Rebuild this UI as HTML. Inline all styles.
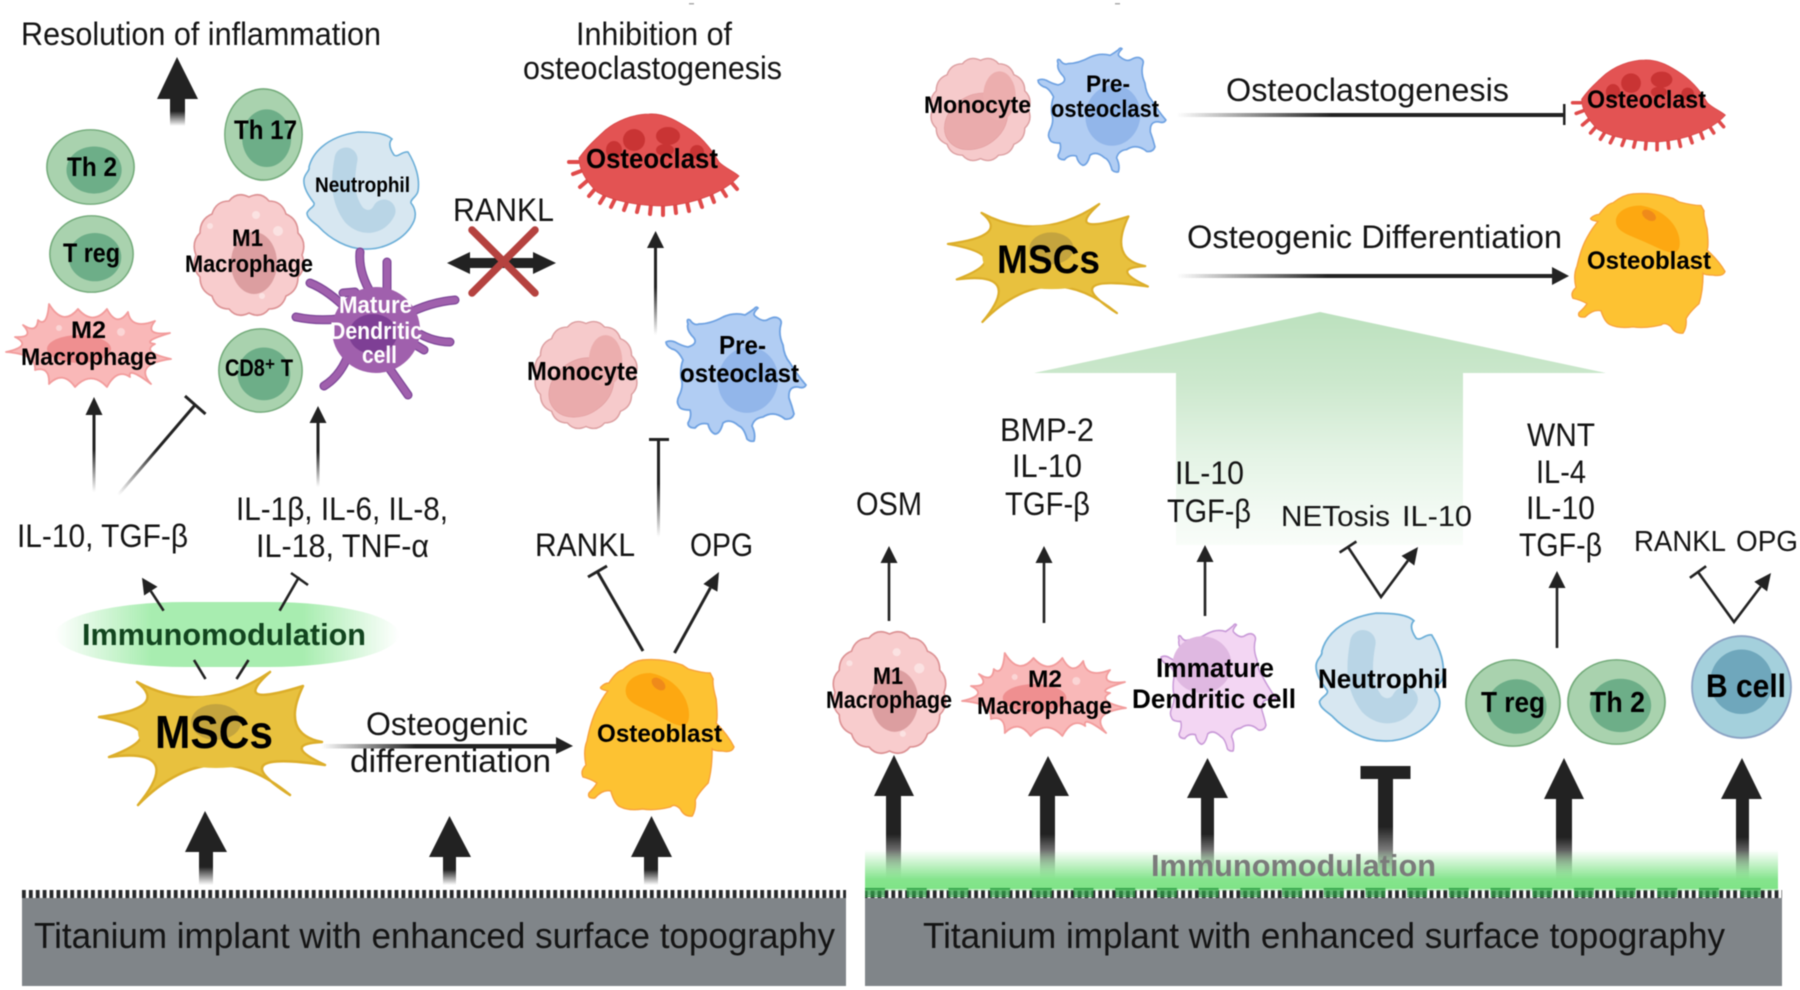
<!DOCTYPE html>
<html>
<head>
<meta charset="utf-8">
<style>
html,body{margin:0;padding:0;background:#fff;width:1800px;height:990px;overflow:hidden}
svg{display:block;filter:blur(.4px)}
text{font-family:"Liberation Sans",sans-serif;fill:#141414}
.n{font-size:32px}
.b{font-weight:bold;fill:#000;font-size:24px}
.w{font-weight:bold;fill:#fff;font-size:24px}
</style>
</head>
<body>
<svg width="1800" height="990" viewBox="0 0 1800 990" xmlns="http://www.w3.org/2000/svg">
<defs>
<linearGradient id="fv" x1="0" y1="0" x2="0" y2="1"><stop offset="0" stop-color="#222"/><stop offset=".45" stop-color="#222"/><stop offset="1" stop-color="#222" stop-opacity="0"/></linearGradient>
<linearGradient id="fh" x1="0" y1="0" x2="1" y2="0"><stop offset="0" stop-color="#222" stop-opacity="0"/><stop offset=".4" stop-color="#222"/><stop offset="1" stop-color="#222"/></linearGradient>
<linearGradient id="fd" gradientUnits="userSpaceOnUse" x1="195" y1="405" x2="118" y2="495"><stop offset="0" stop-color="#222"/><stop offset=".5" stop-color="#222"/><stop offset="1" stop-color="#222" stop-opacity="0"/></linearGradient>
<linearGradient id="ga" gradientUnits="userSpaceOnUse" x1="0" y1="312" x2="0" y2="545"><stop offset="0" stop-color="#bce1be"/><stop offset=".3" stop-color="#cce8cd"/><stop offset=".6" stop-color="#e3f3e4"/><stop offset=".85" stop-color="#f2faf3"/><stop offset="1" stop-color="#f9fdf9"/></linearGradient>
<linearGradient id="ge" x1="0" y1="0" x2="1" y2="0"><stop offset="0" stop-color="#a8edb0" stop-opacity="0"/><stop offset=".28" stop-color="#a8edb0"/><stop offset=".72" stop-color="#a8edb0"/><stop offset="1" stop-color="#a8edb0" stop-opacity="0"/></linearGradient>
<linearGradient id="gg" x1="0" y1="0" x2="0" y2="1"><stop offset="0" stop-color="#7fe387" stop-opacity="0"/><stop offset=".75" stop-color="#7fe387" stop-opacity=".95"/><stop offset="1" stop-color="#7fe387"/></linearGradient>
<pattern id="comb" x="22" y="890" width="6.9" height="8" patternUnits="userSpaceOnUse"><rect x="0" y="0" width="3.8" height="8" fill="#26282a"/></pattern>
<pattern id="bump" x="865" y="888" width="41.7" height="8" patternUnits="userSpaceOnUse"><rect x="0" y="0" width="20" height="2.6" fill="#2f9d46"/><rect x="0" y="2.6" width="20" height="5" fill="#2f9d46" opacity=".75"/></pattern>

<path id="wavy" d="M110 62Q115 75 106 84Q106 98 94 103Q90 116 77 116Q69 126 57 120Q45 126 37 116Q24 116 20 103Q8 98 8 84Q-1 75 4 62Q-1 49 8 40Q8 26 20 21Q24 8 37 8Q45 -2 57 4Q69 -2 77 8Q90 8 94 21Q106 26 106 40Q115 49 110 62Z"/>
<path id="pres" d="M92 2Q86 8 89 10Q96 16 101 14Q108 10 112 12Q116 14 115 18Q112 28 117 39Q118 50 124 57Q132 70 140 79Q138 83 132 81Q122 80 123 92Q126 100 128 108Q126 114 119 113Q108 104 97 111Q88 112 86 120Q90 128 88 135Q84 136 81 133Q78 122 73 120Q64 112 57 117Q54 128 49 128Q44 126 42 118Q34 116 29 122Q22 122 22 117Q26 110 24 104Q14 104 13 100Q10 96 13 90Q18 80 15 72Q14 62 17 54Q12 44 6 43Q0 40 0 36Q4 34 9 36Q16 40 22 41Q32 38 28 32Q20 24 22 18Q20 12 24 14Q28 20 33 18Q44 18 57 11Q68 6 79 9Q84 6 88 3Q90 0 92 2Z"/>

<symbol id="lym" viewBox="0 0 100 100" preserveAspectRatio="none" overflow="visible">
<ellipse cx="50" cy="50" rx="49" ry="49" fill="#a9d2ae" stroke="#74ab7b" stroke-width="1.8"/>
<ellipse cx="54" cy="54" rx="31" ry="31" fill="#6dae88"/>
</symbol>
<symbol id="bcell" viewBox="0 0 100 100" preserveAspectRatio="none" overflow="visible">
<ellipse cx="50" cy="50" rx="49" ry="49" fill="#a4d0dc" stroke="#8ba3c4" stroke-width="1.8"/>
<ellipse cx="50" cy="45" rx="31" ry="31" fill="#6fa7bc"/>
</symbol>
<symbol id="mono" viewBox="0 0 114 124" preserveAspectRatio="none" overflow="visible">
<use href="#wavy" fill="#f6cacb" stroke="#dc9fa1" stroke-width="1.6"/>
<ellipse cx="52" cy="76" rx="38" ry="30" transform="rotate(-40 52 76)" fill="#eaabac" stroke="#e09a9c" stroke-width=".6"/>
<ellipse cx="78" cy="46" rx="18" ry="29" fill="#ecaeae"/>
</symbol>
<symbol id="m1" viewBox="0 0 114 124" preserveAspectRatio="none" overflow="visible">
<use href="#wavy" fill="#f8cccd" stroke="#dc9294" stroke-width="1.6"/>
<ellipse cx="62" cy="70" rx="23" ry="31" fill="#dc9ea0"/>
<circle cx="64" cy="22" r="4" fill="#fbe2e2"/><circle cx="86" cy="38" r="5" fill="#fbe2e2"/><circle cx="18" cy="33" r="3" fill="#fbe2e2"/><circle cx="70" cy="103" r="3" fill="#fbe2e2"/>
</symbol>
<symbol id="m2" viewBox="0 0 166 85" preserveAspectRatio="none" overflow="visible">
<path d="M44 2Q58 25 73 7Q88 24 102 7Q112 26 123 10Q126 28 150 19Q138 34 165 31Q135 40 150 42Q135 50 166 57Q128 62 146 82Q122 64 125 75Q112 66 102 85Q86 68 70 85Q58 68 44 82Q45 64 30 68Q32 52 1 50Q28 44 10 35Q30 36 18 23Q32 32 33 18Q42 26 44 2Z" fill="#f9b8b8" stroke="#f29c9c" stroke-width="1.8" stroke-linejoin="round"/>
<ellipse cx="83" cy="45" rx="56" ry="27" fill="#f9b8b8"/>
<ellipse cx="74" cy="47" rx="32" ry="14" fill="#ef8f90"/>
<circle cx="116" cy="30" r="4" fill="#fbd5d5"/><circle cx="54" cy="26" r="3" fill="#fbd5d5"/>
</symbol>
<symbol id="neu" viewBox="0 0 118 119" preserveAspectRatio="none" overflow="visible">
<path d="M56 1C70 1 84 2 90 8C86 12 88 18 92 24C96 27 100 20 106 21C114 34 118 48 116 60C115 66 108 68 109 72C114 78 114 85 112 90C104 108 82 119 62 118C46 118 28 108 17 96C13 92 5 88 5 82C7 77 13 76 12 72C6 64 1 56 2 48C3 42 8 40 7 36C10 24 22 6 56 1Z" fill="#d7e7f1" stroke="#6cafd8" stroke-width="1.6"/>
<path d="M44 28C40 50 40 68 52 84C62 94 76 92 82 80" fill="none" stroke="#b9d5e6" stroke-width="23" stroke-linecap="round"/>
</symbol>
<symbol id="clast" viewBox="0 0 178 100" preserveAspectRatio="none" overflow="visible">
<path d="M166 68L172 75M156 74L161 82M146 80L149 88M134 84L137 93M122 88L124 97M110 90L111 99M98 90L98 101M86 90L85 100M74 90L72 98M62 88L59 96M50 85L46 93M40 81L35 89M30 75L24 82M22 67L15 73M16 57L8 60M13 48L4 48" stroke="#e04a4a" stroke-width="4" stroke-linecap="round" fill="none"/>
<path d="M14 44C24 30 30 26 36 20C50 6 70 0 84 0C100 -1 114 8 126 16C140 26 148 38 154 48C160 54 170 58 174 62C160 78 130 90 100 92C70 92 46 86 32 78C22 68 14 56 14 44Z" fill="#e35353" stroke="#d64444" stroke-width=".8"/>
<ellipse cx="69" cy="26" rx="11" ry="11" fill="#c93434"/><ellipse cx="103" cy="22" rx="12" ry="9" fill="#c93434"/><ellipse cx="49" cy="36" rx="8" ry="9" fill="#c93434"/><ellipse cx="100" cy="36" rx="9" ry="6" fill="#c93434"/><ellipse cx="132" cy="38" rx="7" ry="7" fill="#c93434"/>
</symbol>
<symbol id="msc" viewBox="0 0 226 133" preserveAspectRatio="none" overflow="visible">
<path d="M39 10Q105 45 172 0Q131 37 205 14Q182 62 224 70Q182 72 227 93Q122 78 192 123Q114 58 40 133Q88 75 11 85Q80 59 1 45Q72 36 39 10Z" fill="#e8c13e" stroke="#dcae2a" stroke-width="2.5" stroke-linejoin="round"/>
<ellipse cx="118" cy="60" rx="78" ry="36" fill="#e8c13e"/>
<ellipse cx="118" cy="50" rx="25" ry="18" fill="#c4a43e"/>
</symbol>
<symbol id="blast" viewBox="0 0 155 158" preserveAspectRatio="none" overflow="visible">
<path d="M62 1Q82 -1 102 6L108 10Q122 14 130 14L133 20Q132 26 136 40Q138 60 136 64Q148 76 154 88Q152 94 142 92Q134 92 132 90Q132 110 128 124Q118 134 115 141Q116 150 112 157Q104 158 100 150Q94 144 90 148Q74 152 62 150Q48 152 40 148Q34 146 30 132Q22 130 14 139Q6 140 8 134Q14 128 16 124Q10 120 2 118Q-1 112 5 106Q2 92 6 82Q10 62 16 50Q22 38 27 32Q18 30 20 28Q24 24 28 24Q36 12 42 11Q52 2 62 1Z" fill="#fdc232" stroke="#f8a23a" stroke-width="1.4"/>
<path d="M70 14C55 14 44 22 45 33C46 45 62 48 80 58C92 64 104 72 108 62C112 46 100 20 70 14Z" fill="#fda811"/>
<ellipse cx="78" cy="25" rx="8" ry="5" transform="rotate(40 78 25)" fill="#ef8a1a"/>
</symbol>
<symbol id="preo" viewBox="0 0 139 132" preserveAspectRatio="none" overflow="visible">
<use href="#pres" fill="#b1cdf3" stroke="#6fa2e2" stroke-width="1.8" stroke-linejoin="round"/>
<ellipse cx="82" cy="74" rx="30" ry="33" transform="rotate(12 82 74)" fill="#92b6ea"/>
</symbol>
<symbol id="imdc" viewBox="0 0 139 132" preserveAspectRatio="none" overflow="visible">
<use href="#pres" fill="#f3d6f3" stroke="#c99ad8" stroke-width="1.8" stroke-linejoin="round"/>
<ellipse cx="50" cy="44" rx="36" ry="30" fill="#dfb8e1"/>
</symbol>
</defs>

<!-- top marks -->
<rect x="689" y="3" width="5" height="1.5" fill="#aaa"/><rect x="1115" y="3" width="5" height="1.5" fill="#aaa"/>

<!-- green large arrow -->
<polygon points="1320,312 1606,373 1463,373 1463,545 1176,545 1176,373 1034,373" fill="url(#ga)"/>

<!-- implants -->
<rect x="22" y="898" width="824" height="88" fill="#808589"/>
<rect x="865" y="898" width="917" height="88" fill="#808589"/>
<rect x="22" y="890" width="824" height="8" fill="url(#comb)"/>
<rect x="865" y="890" width="917" height="8" fill="url(#comb)"/>

<!-- big left arrows -->
<polygon points="205,811 227,852 185,852" fill="#222"/><rect x="199" y="852" width="14" height="33" fill="url(#fv)"/>
<polygon points="449.5,816 471,857 429,857" fill="#222"/><rect x="443" y="857" width="13" height="28" fill="url(#fv)"/>
<polygon points="651.5,816 672,857 631,857" fill="#222"/><rect x="644" y="857" width="14" height="28" fill="url(#fv)"/>
<polygon points="177,57 198,99 157,99" fill="#222"/><rect x="170" y="99" width="15" height="27" fill="url(#fv)"/>

<!-- big right arrows -->
<polygon points="894,755 914,796 874,796" fill="#222"/><rect x="886" y="796" width="15" height="85" fill="url(#fv)"/>
<polygon points="1048,756 1069,796 1028,796" fill="#222"/><rect x="1040" y="796" width="15" height="85" fill="url(#fv)"/>
<polygon points="1207.5,758 1228,798 1187,798" fill="#222"/><rect x="1201" y="798" width="13" height="80" fill="url(#fv)"/>
<rect x="1360.5" y="766" width="50" height="13" fill="#222"/><rect x="1378" y="779" width="15" height="106" fill="url(#fv)"/>
<polygon points="1564,758 1584,799 1544,799" fill="#222"/><rect x="1556" y="799" width="16" height="85" fill="url(#fv)"/>
<polygon points="1742,758 1762,799 1721,799" fill="#222"/><rect x="1736" y="799" width="13" height="85" fill="url(#fv)"/>

<!-- green band -->
<rect x="865" y="850" width="913" height="39" fill="url(#gg)"/>
<rect x="865" y="888" width="913" height="9" fill="url(#bump)"/>
<rect x="865" y="889" width="913" height="2" fill="#7fe387" opacity=".4"/>
<text x="1151" y="876" textLength="285" lengthAdjust="spacingAndGlyphs" style="font-weight:bold;font-size:31px;fill:#7b7b7b">Immunomodulation</text>

<!-- immuno glow -->
<rect x="55" y="602" width="344" height="65" rx="130" ry="32.5" fill="url(#ge)"/>

<!-- thin connectors left -->
<rect x="92.5" y="415" width="3" height="77" fill="url(#fv)"/><polygon points="94,397 102.5,415 85.5,415" fill="#222"/>
<line x1="195" y1="405" x2="118" y2="495" stroke="url(#fd)" stroke-width="3"/>
<line x1="185" y1="396" x2="205.5" y2="414" stroke="#222" stroke-width="3"/>
<rect x="316.5" y="423" width="3" height="64" fill="url(#fv)"/><polygon points="318,406 326.5,423 309.5,423" fill="#222"/>
<rect x="654" y="248" width="3" height="87" fill="url(#fv)"/><polygon points="655.6,231 664,248 647,248" fill="#222"/>
<rect x="657" y="440" width="3" height="97" fill="url(#fv)"/><rect x="649" y="438" width="20" height="3" fill="#222"/>
<line x1="163.6" y1="610.7" x2="150.8" y2="591.1" stroke="#222" stroke-width="2.6"/><polygon points="142,577.7 157.5,586.7 144.1,595.5" fill="#222"/>
<line x1="279.6" y1="610.7" x2="299" y2="577" stroke="#222" stroke-width="2.6"/><line x1="291" y1="573" x2="308" y2="585" stroke="#222" stroke-width="2.6"/>
<line x1="194" y1="660" x2="205.5" y2="679" stroke="#222" stroke-width="2.6"/><line x1="248.5" y1="660" x2="236.5" y2="679" stroke="#222" stroke-width="2.6"/>
<line x1="643" y1="651" x2="597" y2="571" stroke="#222" stroke-width="3"/><line x1="588" y1="577" x2="607" y2="566" stroke="#222" stroke-width="3"/>
<line x1="674.5" y1="653" x2="710.4" y2="587.8" stroke="#222" stroke-width="3"/><polygon points="719,572 717.4,591.6 703.4,584" fill="#222"/>
<rect x="321" y="744" width="236" height="4.5" fill="url(#fh)"/><polygon points="573,746 556,737 556,754" fill="#222"/>

<!-- RANKL X -->
<rect x="466" y="258" width="70" height="10" fill="#222"/>
<polygon points="447,263 470,252 470,274" fill="#222"/><polygon points="556,263 533,252 533,274" fill="#222"/>
<g stroke="#b5423f" stroke-width="7.5" stroke-linecap="round"><line x1="472" y1="230" x2="535" y2="293"/><line x1="535" y1="230" x2="472" y2="293"/></g>

<!-- thin connectors right -->
<rect x="1177" y="113" width="386" height="4" fill="url(#fh)"/><rect x="1563" y="104" width="2.5" height="21" fill="#222"/>
<rect x="1177" y="274" width="376" height="4" fill="url(#fh)"/><polygon points="1569,276 1552,267 1552,285" fill="#222"/>
<g stroke="#222" stroke-width="2.6" fill="none">
<line x1="889" y1="621" x2="889" y2="560"/><line x1="1044" y1="623" x2="1044" y2="560"/><line x1="1205" y1="616" x2="1205" y2="560"/><line x1="1557" y1="648" x2="1557" y2="585"/>
<polyline points="1348,547 1381,597 1407.9,560.7"/><line x1="1356.4" y1="541.5" x2="1339.6" y2="552.5"/>
<polyline points="1698,572 1734,622 1760.7,586.6"/><line x1="1706.1" y1="566.2" x2="1689.9" y2="577.8"/>
</g>
<polygon points="889,546 897.5,563 880.5,563" fill="#222"/><polygon points="1044,546 1052.5,563 1035.5,563" fill="#222"/><polygon points="1205,545 1213.5,562 1196.5,562" fill="#222"/><polygon points="1557,571 1565.5,588 1548.5,588" fill="#222"/>
<polygon points="1418,547 1414.3,565.5 1401.5,555.9" fill="#222"/><polygon points="1771,573 1767.1,591.4 1754.3,581.8" fill="#222"/>

<!-- cells left -->
<use href="#lym" x="224" y="88" width="79" height="93"/>
<use href="#lym" x="46" y="129" width="89" height="76"/>
<use href="#lym" x="49" y="215" width="85" height="78"/>
<use href="#lym" x="218" y="328" width="85" height="85"/>
<use href="#m1" x="192" y="193" width="114" height="124"/>
<use href="#m2" x="5" y="302" width="166" height="85"/>
<use href="#neu" x="302" y="131" width="118" height="119"/>
<g fill="none" stroke-linecap="round">
<path d="M360 252Q358 272 372 295M387 262L387 295M310 283Q328 290 350 312M296 317Q320 322 345 318M455 300Q430 302 405 315M450 342Q430 342 410 328M424 350L404 338M324 386Q342 375 350 350M408 395Q396 378 380 355M343 293L355 292" stroke="#7d4698" stroke-width="9"/>
<path d="M360 252Q358 272 372 295M387 262L387 295M310 283Q328 290 350 312M296 317Q320 322 345 318M455 300Q430 302 405 315M450 342Q430 342 410 328M424 350L404 338M324 386Q342 375 350 350M408 395Q396 378 380 355M343 293L355 292" stroke="#a060ad" stroke-width="6.5"/>
</g>
<ellipse cx="376" cy="330" rx="44" ry="43" fill="#a060ad"/>
<ellipse cx="373" cy="334" rx="24" ry="20" fill="#7e3f95"/>
<use href="#clast" x="565" y="114" width="178" height="100"/>
<use href="#mono" x="533" y="320" width="106" height="110"/>
<use href="#preo" x="666" y="306" width="139" height="132"/>
<use href="#msc" x="98" y="672" width="226" height="133"/>
<use href="#blast" x="581" y="659" width="154" height="158"/>

<!-- cells right top -->
<use href="#mono" x="929" y="57" width="103" height="105"/>
<use href="#preo" x="1038" y="47" width="127" height="122"/>
<use href="#clast" x="1569" y="60" width="160" height="89"/>
<use href="#msc" x="947" y="204" width="200" height="118"/>
<use href="#blast" x="1571" y="193" width="155" height="141"/>

<!-- cells right bottom -->
<use href="#m1" x="831" y="630" width="117" height="125"/>
<use href="#m2" x="961" y="651" width="165" height="85"/>
<use href="#imdc" x="1161" y="623" width="114" height="125"/>
<use href="#neu" x="1314" y="612" width="131" height="130"/>
<use href="#lym" x="1465" y="659" width="96" height="88"/>
<use href="#lym" x="1567" y="659" width="99" height="86"/>
<use href="#bcell" x="1691" y="635" width="101" height="104"/>

<!-- labels normal -->
<text class="n" x="21" y="45" textLength="360" lengthAdjust="spacingAndGlyphs">Resolution of inflammation</text>
<text class="n" x="576" y="45" textLength="156" lengthAdjust="spacingAndGlyphs">Inhibition of</text>
<text class="n" x="523" y="79" textLength="259" lengthAdjust="spacingAndGlyphs">osteoclastogenesis</text>
<text class="n" x="453" y="221" textLength="101" lengthAdjust="spacingAndGlyphs">RANKL</text>
<text class="n" x="17" y="547" textLength="171" lengthAdjust="spacingAndGlyphs">IL-10, TGF-β</text>
<text class="n" x="236" y="520" textLength="212" lengthAdjust="spacingAndGlyphs">IL-1β, IL-6, IL-8,</text>
<text class="n" x="256" y="557" textLength="173" lengthAdjust="spacingAndGlyphs">IL-18, TNF-α</text>
<text class="n" x="535" y="556" textLength="100" lengthAdjust="spacingAndGlyphs">RANKL</text>
<text class="n" x="690" y="556" textLength="63" lengthAdjust="spacingAndGlyphs">OPG</text>
<text class="n" x="366" y="735" textLength="162" lengthAdjust="spacingAndGlyphs">Osteogenic</text>
<text class="n" x="350" y="772" textLength="201" lengthAdjust="spacingAndGlyphs">differentiation</text>
<text class="n" x="34" y="948" textLength="801" lengthAdjust="spacingAndGlyphs" style="font-size:36px">Titanium implant with enhanced surface topography</text>
<text class="n" x="923" y="948" textLength="802" lengthAdjust="spacingAndGlyphs" style="font-size:36px">Titanium implant with enhanced surface topography</text>
<text class="n" x="1226" y="101" textLength="283" lengthAdjust="spacingAndGlyphs">Osteoclastogenesis</text>
<text class="n" x="1187" y="248" textLength="375" lengthAdjust="spacingAndGlyphs">Osteogenic Differentiation</text>
<text class="n" x="856" y="515" textLength="66" lengthAdjust="spacingAndGlyphs">OSM</text>
<text class="n" x="1000" y="441" textLength="94" lengthAdjust="spacingAndGlyphs">BMP-2</text>
<text class="n" x="1012" y="477" textLength="70" lengthAdjust="spacingAndGlyphs">IL-10</text>
<text class="n" x="1005" y="515" textLength="85" lengthAdjust="spacingAndGlyphs">TGF-β</text>
<text class="n" x="1175" y="484" textLength="69" lengthAdjust="spacingAndGlyphs">IL-10</text>
<text class="n" x="1167" y="522" textLength="84" lengthAdjust="spacingAndGlyphs">TGF-β</text>
<text class="n" x="1281" y="526" textLength="109" lengthAdjust="spacingAndGlyphs" style="font-size:29px">NETosis</text>
<text class="n" x="1402" y="526" textLength="70" lengthAdjust="spacingAndGlyphs" style="font-size:29px">IL-10</text>
<text class="n" x="1527" y="446" textLength="68" lengthAdjust="spacingAndGlyphs">WNT</text>
<text class="n" x="1536" y="483" textLength="50" lengthAdjust="spacingAndGlyphs">IL-4</text>
<text class="n" x="1526" y="519" textLength="69" lengthAdjust="spacingAndGlyphs">IL-10</text>
<text class="n" x="1519" y="556" textLength="83" lengthAdjust="spacingAndGlyphs">TGF-β</text>
<text class="n" x="1634" y="551" textLength="92" lengthAdjust="spacingAndGlyphs" style="font-size:29px">RANKL</text>
<text class="n" x="1736" y="551" textLength="62" lengthAdjust="spacingAndGlyphs" style="font-size:29px">OPG</text>

<!-- labels bold left -->
<text x="82" y="645" textLength="284" lengthAdjust="spacingAndGlyphs" style="font-weight:bold;font-size:31px;fill:#12451f">Immunomodulation</text>
<text class="b" x="67" y="176" textLength="50" lengthAdjust="spacingAndGlyphs" style="font-size:27px">Th 2</text>
<text class="b" x="234" y="139" textLength="63" lengthAdjust="spacingAndGlyphs" style="font-size:27px">Th 17</text>
<text class="b" x="63" y="262" textLength="57" lengthAdjust="spacingAndGlyphs" style="font-size:27px">T reg</text>
<text class="b" x="225" y="376" textLength="68" lengthAdjust="spacingAndGlyphs">CD8⁺ T</text>
<text class="b" x="232" y="246" textLength="31" lengthAdjust="spacingAndGlyphs">M1</text>
<text class="b" x="185" y="272" textLength="128" lengthAdjust="spacingAndGlyphs">Macrophage</text>
<text class="b" x="71" y="338" textLength="35" lengthAdjust="spacingAndGlyphs">M2</text>
<text class="b" x="21" y="365" textLength="136" lengthAdjust="spacingAndGlyphs">Macrophage</text>
<text class="b" x="315" y="192" textLength="95" lengthAdjust="spacingAndGlyphs" style="font-size:21px">Neutrophil</text>
<text class="w" x="339" y="313" textLength="73" lengthAdjust="spacingAndGlyphs">Mature</text>
<text class="w" x="330" y="339" textLength="92" lengthAdjust="spacingAndGlyphs">Dendritic</text>
<text class="w" x="362" y="363" textLength="35" lengthAdjust="spacingAndGlyphs">cell</text>
<text class="b" x="586" y="168" textLength="132" lengthAdjust="spacingAndGlyphs" style="font-size:28px">Osteoclast</text>
<text class="b" x="527" y="380" textLength="111" lengthAdjust="spacingAndGlyphs" style="font-size:26px">Monocyte</text>
<text class="b" x="719" y="354" textLength="47" lengthAdjust="spacingAndGlyphs" style="font-size:26px">Pre-</text>
<text class="b" x="680" y="382" textLength="119" lengthAdjust="spacingAndGlyphs" style="font-size:26px">osteoclast</text>
<text class="b" x="155" y="748" textLength="118" lengthAdjust="spacingAndGlyphs" style="font-size:46px">MSCs</text>
<text class="b" x="597" y="742" textLength="125" lengthAdjust="spacingAndGlyphs" style="font-size:25px">Osteoblast</text>

<!-- labels bold right -->
<text class="b" x="924" y="113" textLength="107" lengthAdjust="spacingAndGlyphs">Monocyte</text>
<text class="b" x="1086" y="92" textLength="44" lengthAdjust="spacingAndGlyphs">Pre-</text>
<text class="b" x="1051" y="117" textLength="108" lengthAdjust="spacingAndGlyphs">osteoclast</text>
<text class="b" x="1587" y="108" textLength="119" lengthAdjust="spacingAndGlyphs" style="font-size:25px">Osteoclast</text>
<text class="b" x="997" y="273" textLength="103" lengthAdjust="spacingAndGlyphs" style="font-size:40px">MSCs</text>
<text class="b" x="1587" y="269" textLength="124" lengthAdjust="spacingAndGlyphs" style="font-size:25px">Osteoblast</text>
<text class="b" x="873" y="684" textLength="30" lengthAdjust="spacingAndGlyphs">M1</text>
<text class="b" x="826" y="708" textLength="126" lengthAdjust="spacingAndGlyphs">Macrophage</text>
<text class="b" x="1028" y="687" textLength="34" lengthAdjust="spacingAndGlyphs">M2</text>
<text class="b" x="977" y="714" textLength="135" lengthAdjust="spacingAndGlyphs">Macrophage</text>
<text class="b" x="1156" y="677" textLength="118" lengthAdjust="spacingAndGlyphs" style="font-size:27px">Immature</text>
<text class="b" x="1132" y="708" textLength="164" lengthAdjust="spacingAndGlyphs" style="font-size:27px">Dendritic cell</text>
<text class="b" x="1318" y="688" textLength="130" lengthAdjust="spacingAndGlyphs" style="font-size:27px">Neutrophil</text>
<text class="b" x="1481" y="712" textLength="64" lengthAdjust="spacingAndGlyphs" style="font-size:29px">T reg</text>
<text class="b" x="1590" y="712" textLength="55" lengthAdjust="spacingAndGlyphs" style="font-size:29px">Th 2</text>
<text class="b" x="1706" y="697" textLength="80" lengthAdjust="spacingAndGlyphs" style="font-size:32px">B cell</text>
</svg>
</body>
</html>
